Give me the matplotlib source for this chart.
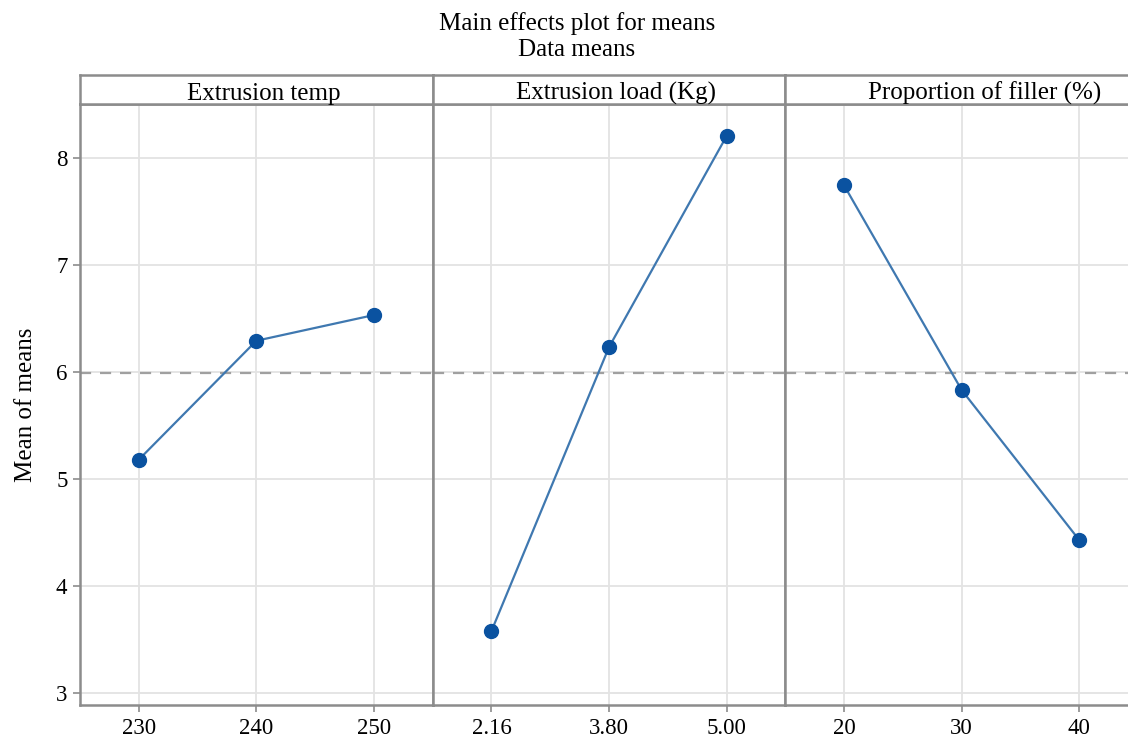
"""Main effects plot for means: three factors, mean response at each level."""
import matplotlib.pyplot as plt

factors = ["Extrusion temp", "Extrusion load (Kg)", "Proportion of filler (%)"]
level_labels = [
    ["230", "240", "250"],
    ["2.16", "3.80", "5.00"],
    ["20", "30", "40"],
]
level_means = [
    [5.18, 6.29, 6.53],
    [3.58, 6.23, 8.20],
    [7.74, 5.83, 4.43],
]
grand_mean = 5.99
y_ticks = [3, 4, 5, 6, 7, 8]

LINE = "#3f78b0"
DOT = "#0a52a0"
FRAME = "#8c8c8c"
GRID = "#e3e3e3"

plt.rcParams.update({
    "font.family": "serif",
    "font.serif": ["Liberation Serif", "DejaVu Serif"],
    "font.size": 16.5,
})

fig = plt.figure(figsize=(11.28, 7.40), dpi=100)
left, right, bottom, top = 80 / 1128, 1138 / 1128, 1 - 705 / 740, 1 - 104 / 740
strip_h = (104 - 75) / 740
width = (right - left) / 3
label_x = [0.52, 0.52, 0.565]

axes = []
for i, name in enumerate(factors):
    ax = fig.add_axes([left + i * width, bottom, width, top - bottom],
                      sharey=axes[0] if axes else None)
    axes.append(ax)
    xs = range(len(level_labels[i]))
    ax.axhline(grand_mean, color="#a0a0a0", lw=1.6, ls=(0, (5, 4)), zorder=2)
    ax.plot(xs, level_means[i], color=LINE, lw=1.6, zorder=3)
    ax.plot(xs, level_means[i], "o", color=DOT, ms=10, zorder=4)
    ax.set_xticks(list(xs))
    ax.set_xticklabels(level_labels[i])
    ax.set_xlim(-0.5, 2.5)
    ax.set_ylim(2.89, 8.5)
    ax.set_yticks(y_ticks)
    ax.grid(True, color=GRID, lw=1.3, zorder=0)
    ax.set_axisbelow(True)
    for s in ax.spines.values():
        s.set_color(FRAME)
        s.set_linewidth(1.8)
    ax.tick_params(axis="both", color=FRAME, length=5, width=1.2, pad=4)
    if i > 0:
        ax.tick_params(axis="y", left=False, labelleft=False)

    # header strip above each panel
    strip = fig.add_axes([left + i * width, top, width, strip_h])
    strip.set_xticks([])
    strip.set_yticks([])
    for s in strip.spines.values():
        s.set_color(FRAME)
        s.set_linewidth(1.8)
    strip.text(label_x[i], 0.15, name, ha="center", va="baseline", fontsize=18,
               transform=strip.transAxes)

axes[0].set_ylabel("Mean of means", fontsize=18, labelpad=14)

fig.text(577 / 1128, 1 - 24 / 740, "Main effects plot for means",
         ha="center", va="center", fontsize=18)
fig.text(577 / 1128, 1 - 50 / 740, "Data means",
         ha="center", va="center", fontsize=18)

fig.savefig("out.png", dpi=100)
